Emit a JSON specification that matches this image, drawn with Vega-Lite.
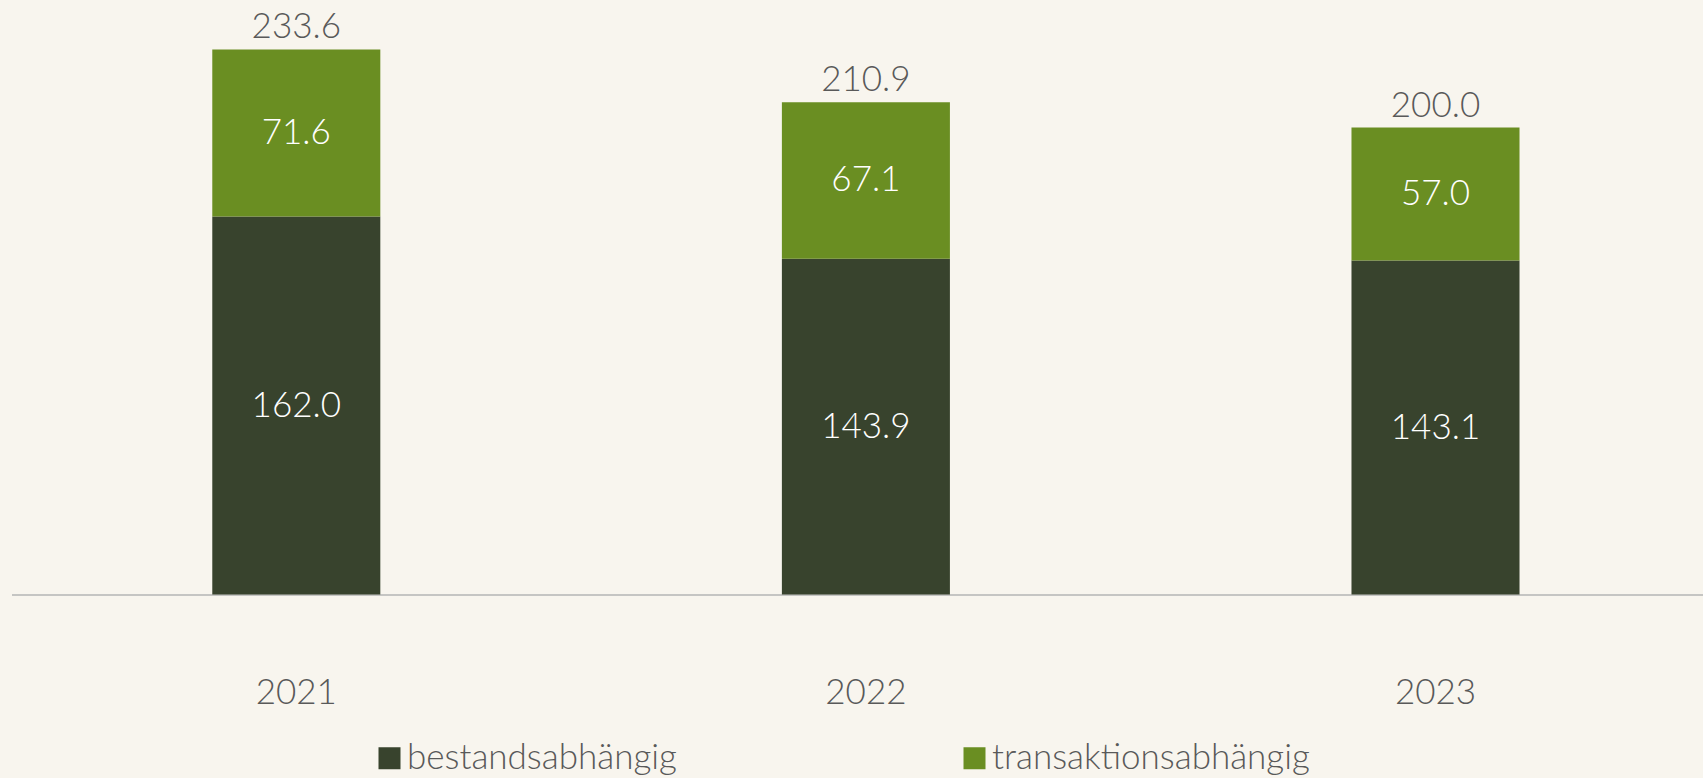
{
  "$schema": "https://vega.github.io/schema/vega-lite/v6.json",
  "width": 1691.5,
  "height": 560,
  "autosize": {"type": "none"},
  "padding": {"left": 11.5, "top": 34.5, "right": 0, "bottom": 183.5},
  "background": "#F8F5EE",
  "config": {"view": {"stroke": null}, "font": "Lato"},
  "datasets": {
    "parts": [
      {"year": "2021", "category": "bestandsabhängig", "value": 162.0},
      {"year": "2021", "category": "transaktionsabhängig", "value": 71.6},
      {"year": "2022", "category": "bestandsabhängig", "value": 143.9},
      {"year": "2022", "category": "transaktionsabhängig", "value": 67.1},
      {"year": "2023", "category": "bestandsabhängig", "value": 143.1},
      {"year": "2023", "category": "transaktionsabhängig", "value": 57.0}
    ],
    "totals": [
      {"year": "2021", "total": 233.6},
      {"year": "2022", "total": 210.9},
      {"year": "2023", "total": 200.0}
    ]
  },
  "encoding": {
    "x": {
      "field": "year",
      "type": "nominal",
      "scale": {"range": [0, 1708.8], "paddingInner": 0.705, "paddingOuter": 0.3525},
      "axis": {
        "title": null,
        "labelAngle": 0,
        "labelFontSize": 35,
        "labelColor": "#595959",
        "labelFont": "Lato",
        "labelFontWeight": 300,
        "labelPadding": 81,
        "ticks": false,
        "domainColor": "#B5B5B5",
        "domainWidth": 1.5
      }
    }
  },
  "layer": [
    {
      "data": {"name": "parts"},
      "transform": [
        {"stack": "value", "groupby": ["year"], "sort": [{"field": "category", "order": "ascending"}], "as": ["v0", "v1"]}
      ],
      "mark": {"type": "bar"},
      "encoding": {
        "y": {"field": "v0", "type": "quantitative", "scale": {"domain": [0, 240]}, "axis": null},
        "y2": {"field": "v1"},
        "color": {
          "field": "category",
          "type": "nominal",
          "scale": {"domain": ["bestandsabhängig", "transaktionsabhängig"], "range": ["#38432D", "#6A8E22"]},
          "legend": {
            "title": null,
            "orient": "none",
            "direction": "horizontal",
            "legendX": 360.5,
            "legendY": 706,
            "symbolType": "square",
            "symbolSize": 484,
            "symbolStrokeWidth": 0,
            "labelFontSize": 35,
            "labelFont": "Lato",
            "labelFontWeight": 300,
            "labelColor": "#595959",
            "labelOffset": 0,
            "labelLimit": 600,
            "columnPadding": 280
          }
        }
      }
    },
    {
      "data": {"name": "parts"},
      "transform": [
        {"stack": "value", "groupby": ["year"], "sort": [{"field": "category", "order": "ascending"}], "as": ["v0", "v1"]},
        {"calculate": "(datum.v0 + datum.v1) / 2", "as": "mid"}
      ],
      "mark": {"type": "text", "color": "#FFFFFF", "fontSize": 35, "fontWeight": 300, "baseline": "middle", "font": "Lato"},
      "encoding": {
        "y": {"field": "mid", "type": "quantitative", "scale": {"domain": [0, 240]}},
        "text": {"field": "value", "type": "quantitative", "format": ".1f"}
      }
    },
    {
      "data": {"name": "totals"},
      "mark": {"type": "text", "color": "#595959", "fontSize": 35, "fontWeight": 300, "baseline": "alphabetic", "dy": -11, "font": "Lato"},
      "encoding": {
        "y": {"field": "total", "type": "quantitative", "scale": {"domain": [0, 240]}},
        "text": {"field": "total", "type": "quantitative", "format": ".1f"}
      }
    }
  ]
}
